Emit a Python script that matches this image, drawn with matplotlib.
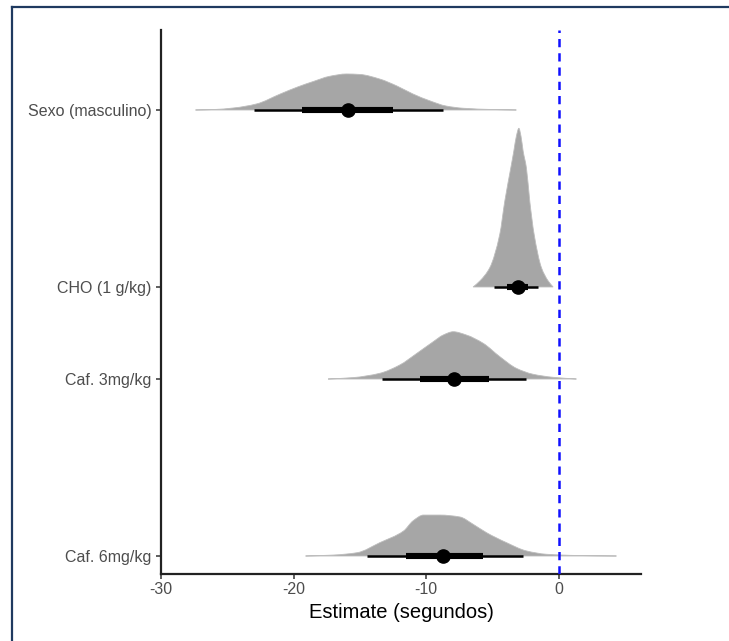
import matplotlib
matplotlib.use("Agg")
import matplotlib.pyplot as plt
from matplotlib.lines import Line2D
from matplotlib.path import Path
from matplotlib.patches import PathPatch
import numpy as np

plt.rcParams['font.family'] = ['Liberation Sans', 'DejaVu Sans']

# ---- data ----
categories = ["Sexo (masculino)", "CHO (1 g/kg)", "Caf. 3mg/kg", "Caf. 6mg/kg"]
cat_pos = [3.52, 2.52, 2.0, 1.0]

# posterior density profiles (x = estimate, d = relative density)
sexo_x = [-27.4, -26, -24.5, -22.8, -21, -19.7, -18.5, -17.3, -16, -15, -13.5, -12.2, -11, -9.7, -8.5, -7.2, -5, -3.2]
sexo_d = [0, 0.003, 0.013, 0.038, 0.101, 0.145, 0.180, 0.212, 0.227, 0.224, 0.195, 0.151, 0.101, 0.057, 0.025, 0.011, 0.003, 0]
cho_x = [-6.46, -5.95, -5.2, -4.45, -4.07, -3.62, -3.39, -3.2, -3.01, -2.85, -2.69, -2.44, -2.19, -1.86, -1.31, -0.8, -0.43]
cho_d = [0, 0.038, 0.122, 0.332, 0.542, 0.750, 0.857, 0.95, 1.0, 0.95, 0.857, 0.750, 0.542, 0.332, 0.122, 0.038, 0]
caf3_x = [-17.4, -15.5, -13.5, -12.0, -10.7, -9.47, -8.72, -7.96, -6.96, -5.70, -4.45, -3.19, -1.94, -0.45, 1.33]
caf3_d = [0, 0.009, 0.036, 0.088, 0.162, 0.235, 0.277, 0.298, 0.277, 0.225, 0.141, 0.067, 0.030, 0.011, 0]
caf6_x = [-19.1, -17, -15.2, -13.5, -11.7, -11.0, -10.2, -8.97, -7.46, -6.46, -5.45, -3.94, -2.44, -0.93, 1.5, 4.35]
caf6_d = [0, 0.006, 0.021, 0.084, 0.158, 0.221, 0.258, 0.258, 0.246, 0.200, 0.147, 0.084, 0.032, 0.011, 0.003, 0]

# point estimate and intervals
point = [-15.9, -3.11, -7.91, -8.77]
thick_lo = [-19.4, -3.94, -10.47, -11.5]
thick_hi = [-12.5, -2.31, -5.25, -5.75]
thin_lo = [-23.0, -4.87, -13.36, -14.5]
thin_hi = [-8.7, -1.56, -2.44, -2.69]

xticks = [-30, -20, -10, 0]
xlabel = "Estimate (segundos)"


def monotone_slopes(x, y):
    h = np.diff(x)
    delta = np.diff(y) / h
    n = len(x)
    m = np.zeros(n)
    m[0] = delta[0]
    m[-1] = delta[-1]
    for k in range(1, n - 1):
        if delta[k - 1] * delta[k] <= 0:
            m[k] = 0.0
        else:
            w1 = 2 * h[k] + h[k - 1]
            w2 = h[k] + 2 * h[k - 1]
            m[k] = (w1 + w2) / (w1 / delta[k - 1] + w2 / delta[k])
    return m


def slab_path(x, y, base):
    x = np.asarray(x, float)
    y = np.asarray(y, float)
    m = monotone_slopes(x, y)
    verts = [(x[0], base), (x[0], base + y[0])]
    codes = [Path.MOVETO, Path.LINETO]
    for i in range(len(x) - 1):
        h = x[i + 1] - x[i]
        verts += [(x[i] + h / 3, base + y[i] + m[i] * h / 3),
                  (x[i + 1] - h / 3, base + y[i + 1] - m[i + 1] * h / 3),
                  (x[i + 1], base + y[i + 1])]
        codes += [Path.CURVE4] * 3
    verts += [(x[-1], base), (x[0], base)]
    codes += [Path.LINETO, Path.CLOSEPOLY]
    return Path(verts, codes)


# ---- figure ----
fig = plt.figure(figsize=(7.29, 6.41), dpi=100)
ax = fig.add_axes([161/729, 1 - 574/641, (641-161)/729, (574-30)/641])

profiles = [(sexo_x, sexo_d), (cho_x, cho_d), (caf3_x, caf3_d), (caf6_x, caf6_d)]
scale = 158.7 / 177.0
for (xs, ds), y0 in zip(profiles, cat_pos):
    p = slab_path(xs, np.asarray(ds) * scale, y0)
    ax.add_patch(PathPatch(p, facecolor="#A6A6A6", edgecolor="#BDBDBD",
                           lw=0.6, zorder=2))

for i, y0 in enumerate(cat_pos):
    ax.plot([thin_lo[i], thin_hi[i]], [y0, y0], color="black", lw=1.8,
            solid_capstyle="butt", zorder=3)
    ax.plot([thick_lo[i], thick_hi[i]], [y0, y0], color="black", lw=4.4,
            solid_capstyle="butt", zorder=4)
    ax.plot([point[i]], [y0], "o", color="black", ms=9.5, zorder=5)

ax.axvline(0, color="#1010FF", lw=1.8, dashes=(3.3, 2.4), zorder=6)

ax.set_xlim(-30.0, 6.2)
ax.set_ylim(1 - 18/177, 3.52 + 80/177)
ax.set_xticks(xticks)
ax.set_xticklabels([str(t) for t in xticks])
ax.set_yticks(cat_pos)
ax.set_yticklabels(categories)

for s in ["top", "right"]:
    ax.spines[s].set_visible(False)
for s in ["left", "bottom"]:
    ax.spines[s].set_linewidth(1.6)
    ax.spines[s].set_color("#222222")

ax.tick_params(axis="both", length=3.5, width=1.1, color="#333333",
               labelcolor="#4D4D4D", labelsize=11.5)
ax.tick_params(axis="y", pad=3.5)
ax.tick_params(axis="x", pad=2.5)
ax.set_xlabel(xlabel, fontsize=14.5, color="black", labelpad=4)

# outer frame (top and left)
border = "#1F3A60"
fig.add_artist(Line2D([12/729, 1.0], [1 - 7/641, 1 - 7/641], transform=fig.transFigure,
                      color=border, lw=1.6))
fig.add_artist(Line2D([12/729, 12/729], [0.0, 1 - 7/641], transform=fig.transFigure,
                      color=border, lw=1.6))

fig.savefig("out.png", dpi=100)
